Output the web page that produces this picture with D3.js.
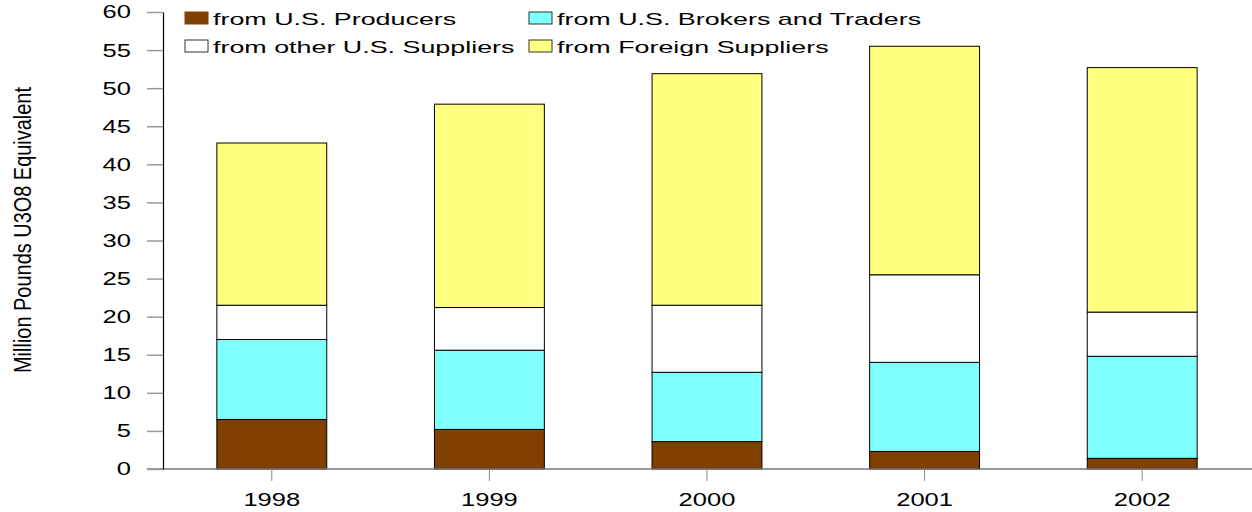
<!DOCTYPE html>
<html>
<head>
<meta charset="utf-8">
<script src="https://cdn.jsdelivr.net/npm/d3@7"></script>
<style>
  body { margin: 0; background: #fff; }
  text { font-family: "Liberation Sans", Arial, sans-serif; fill: #000; }
</style>
</head>
<body>
<div id="chart"></div>
<script>
// Data (million pounds U3O8 equivalent)
const years = ["1998", "1999", "2000", "2001", "2002"];
const producers = [6.5, 5.2, 3.6, 2.3, 1.4];
const brokers = [10.5, 10.4, 9.1, 11.7, 13.4];
const otherUS = [4.5, 5.6, 8.8, 11.5, 5.8];
const foreign = [21.3, 26.7, 30.4, 30.0, 32.1];

const seriesKeys = ["producers", "brokers", "other", "foreign"];
const seriesNames = ["from U.S. Producers", "from U.S. Brokers and Traders",
  "from other U.S. Suppliers", "from Foreign Suppliers"];
const seriesColors = ["#804000", "#80ffff", "#ffffff", "#ffff80"];
const yTicks = d3.range(0, 61, 5);

const W = 1252, H = 512;
const svg = d3.select("#chart").append("svg")
  .attr("width", W)
  .attr("height", H);

const rows = years.map((yr, i) => ({
  year: yr,
  producers: producers[i],
  brokers: brokers[i],
  other: otherUS[i],
  foreign: foreign[i]
}));

const x = d3.scaleBand()
  .domain(years)
  .range([163, 1251])
  .paddingInner(0.495)
  .paddingOuter(0.2475);

const y = d3.scaleLinear()
  .domain([0, 60])
  .range([469, 12]);

const stacked = d3.stack().keys(seriesKeys)(rows);

// bars
svg.append("g")
  .selectAll("g")
  .data(stacked)
  .join("g")
  .attr("fill", (d, i) => seriesColors[i])
  .selectAll("rect")
  .data(d => d)
  .join("rect")
  .attr("x", d => x(d.data.year))
  .attr("y", d => y(d[1]))
  .attr("width", x.bandwidth())
  .attr("height", d => y(d[0]) - y(d[1]))
  .attr("stroke", "#000")
  .attr("stroke-width", 1);

// x baseline, runs from the y ticks to the right edge
svg.append("line")
  .attr("x1", 147).attr("x2", W)
  .attr("y1", y(0)).attr("y2", y(0))
  .attr("stroke", "#777")
  .attr("stroke-width", 1.5);

const tickScaleX = 1.38;  // text in the original is stretched horizontally

// x axis
const xAxis = svg.append("g")
  .attr("transform", `translate(0,${y(0)})`)
  .call(d3.axisBottom(x).tickSize(12).tickSizeOuter(0).tickPadding(12));
xAxis.select(".domain").remove();
xAxis.selectAll(".tick line").attr("stroke", "#888");
xAxis.selectAll(".tick text")
  .style("font-size", "18.5px")
  .attr("transform", `scale(${tickScaleX},1)`);

// y axis
const yAxis = svg.append("g")
  .attr("transform", "translate(163,0)")
  .call(d3.axisLeft(y).tickValues(yTicks).tickSize(16).tickSizeOuter(0).tickPadding(16));
yAxis.select(".domain").attr("stroke", "#000").attr("stroke-width", 1.2);
yAxis.selectAll(".tick line").attr("stroke", "#999").attr("stroke-width", 1.5);
yAxis.selectAll(".tick text")
  .style("font-size", "18.5px")
  .attr("x", -32 / tickScaleX)
  .attr("transform", `scale(${tickScaleX},1)`);

// y axis title (condensed in the original)
svg.append("text")
  .attr("transform", "translate(31,230) rotate(-90)")
  .attr("text-anchor", "middle")
  .attr("textLength", 286)
  .attr("lengthAdjust", "spacingAndGlyphs")
  .style("font-size", "23px")
  .text("Million Pounds U3O8 Equivalent");

// legend, two columns by two rows
const legendCols = [185, 529];
const legendRows = [12, 40];
const legendOrder = [0, 1, 2, 3]; // producers, brokers / other, foreign
const legend = svg.append("g")
  .selectAll("g")
  .data(legendOrder)
  .join("g")
  .attr("transform", (d, i) => `translate(${legendCols[i % 2]},${legendRows[Math.floor(i / 2)]})`);

legend.append("rect")
  .attr("width", 23)
  .attr("height", 12)
  .attr("fill", d => seriesColors[d])
  .attr("stroke", d => d === 0 ? "#804000" : "#333")
  .attr("stroke-width", 1);

legend.append("text")
  .attr("transform", "translate(28,13) scale(1.58,1)")
  .style("font-size", "17px")
  .text(d => seriesNames[d]);
</script>
</body>
</html>
